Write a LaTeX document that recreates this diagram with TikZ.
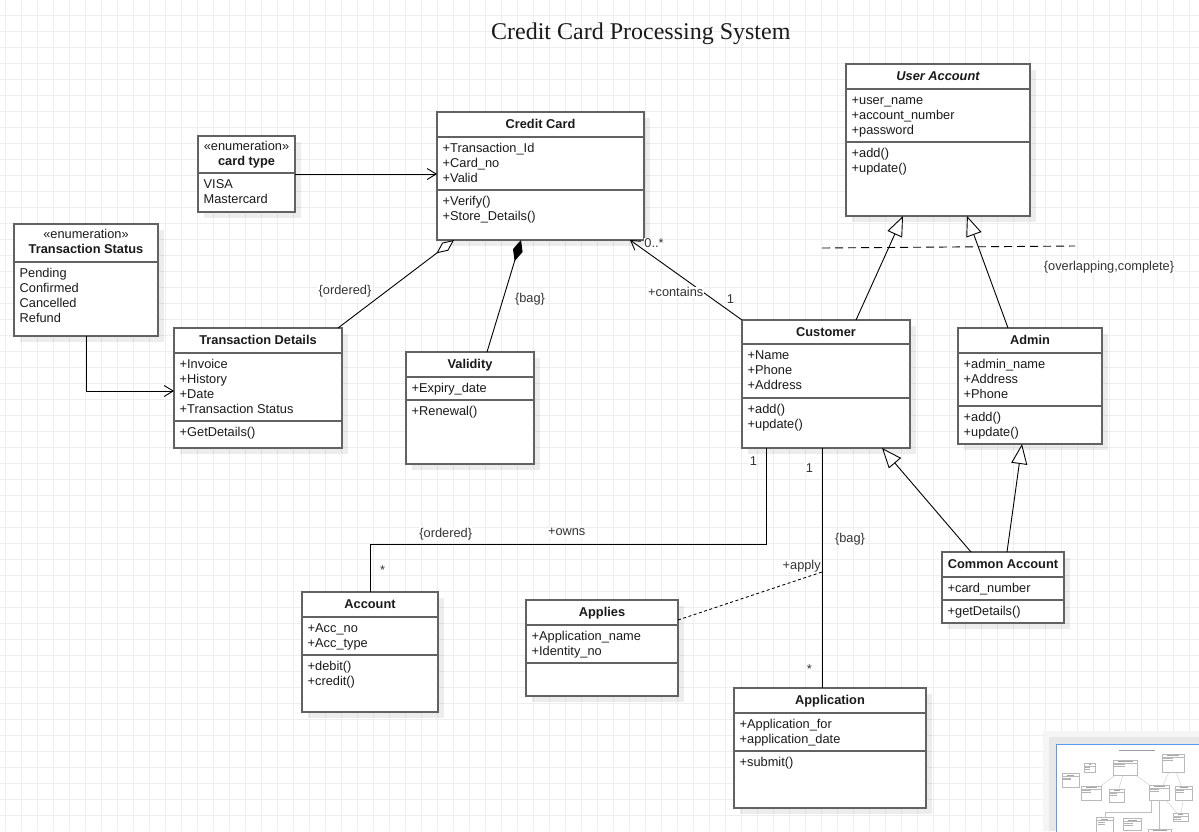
\documentclass[tikz,border=0pt]{standalone}
\usepackage{fontspec}
\setmainfont{Liberation Sans}
\newfontfamily\titlefont{Liberation Serif}
\usetikzlibrary{arrows.meta,calc}
\definecolor{boxc}{HTML}{626262}
\definecolor{gridc}{HTML}{EEEEEE}
\definecolor{txtc}{HTML}{1A1A1A}
\definecolor{lblc}{HTML}{333333}
\definecolor{minib}{HTML}{5B9BEF}
\newcommand\attrfont{\fontsize{12.8}{15}\selectfont}
\newcommand\hdrfont{\fontsize{12.8}{15}\selectfont\bfseries}
\tikzset{
  clsbox/.style={draw=boxc, line width=1.4pt, fill=white, inner sep=0pt, outer sep=0pt},
  divline/.style={draw=boxc, line width=1.4pt},
  boxshadow/.style={fill=black, fill opacity=0.07},
  txt/.style={font=\attrfont, inner sep=0pt, text=txtc},
  hdr/.style={font=\hdrfont, inner sep=0pt, text=txtc},
  stereo/.style={font=\attrfont, inner sep=0pt, text=txtc},
  lbl/.style={font=\attrfont, fill=white, inner sep=0.5pt, text=lblc},
  conn/.style={draw=black, line width=0.9pt},
  gridl/.style={draw=gridc, line width=1.1pt},
  openarr/.style={-{Straight Barb[length=9pt,width=11pt]}},
  genarr/.style={-{Triangle[fill=white,length=20pt,width=16pt]}},
  aggarr/.style={-{Diamond[fill=white,length=22pt,width=10pt]}},
  comparr/.style={-{Diamond[fill=black,length=22pt,width=10pt]}},
  minibox/.style={draw=gray!55, line width=0.5pt, fill=white},
}
\newcommand\umlcls[7]{%
  \fill[boxshadow] ({#2+6},{#3+6}) rectangle ({#4+6},{#5+6});
  \node[clsbox, anchor=north west, minimum width={(#4-#2)*1pt}, minimum height={(#5-#3)*1pt}] (#1) at (#2,#3) {};
  \draw[divline] (#2,#6) -- (#4,#6);
  \ifnum#7>0 \draw[divline] (#2,#7) -- (#4,#7);\fi
}
\newcommand\umlrows[4]{%
  \foreach \rowtext [count=\i] in {#4} {
    \node[txt, anchor=base west] (#1\i) at (#2, {#3+15*(\i-1)}) {\rowtext};
  }%
}
\begin{document}
\begin{tikzpicture}[x=1pt,y=-1pt]
\useasboundingbox (0,0) rectangle (1199,831);
\fill[white] (0,0) rectangle (1199,831);
% grid
\foreach \gx in {5.7,21.7,...,1199} \draw[gridl] (\gx,0) -- (\gx,831);
\foreach \gy in {15.7,31.7,...,831} \draw[gridl] (0,\gy) -- (1199,\gy);

% title
\node[font=\titlefont\fontsize{24}{28}\selectfont, anchor=base, inner sep=0pt, text=txtc] (title) at (640.8,39.3) {Credit Card Processing System};

% classes
\umlcls{ct}{198}{136}{295}{212}{173}{0}
\node[stereo, anchor=base] (ctS) at (246.5,150) {«enumeration»};
\node[hdr, anchor=base] (ctH) at (246.5,165.5) {card type};
\umlrows{ctr}{203.5}{188.5}{VISA,Mastercard}

\umlcls{ts}{14}{224}{158}{336}{262}{0}
\node[stereo, anchor=base] (tsS) at (86,238) {«enumeration»};
\node[hdr, anchor=base] (tsH) at (86,253.5) {Transaction Status};
\umlrows{tsr}{19.5}{277}{Pending,Confirmed,Cancelled,Refund}

\umlcls{td}{174}{328}{342}{448}{353}{421}
\node[hdr, anchor=base] (tdH) at (258,344.5) {Transaction Details};
\umlrows{tda}{179.5}{368}{+Invoice,+History,+Date,+Transaction Status}
\umlrows{tdm}{179.5}{436}{+GetDetails()}

\umlcls{cc}{437}{112}{644}{240}{137}{190}
\node[hdr, anchor=base] (ccH) at (540.5,128.5) {Credit Card};
\umlrows{cca}{442.5}{152}{+Transaction\_Id,+Card\_no,+Valid}
\umlrows{ccm}{442.5}{205}{+Verify(),+Store\_Details()}

\umlcls{val}{406}{352}{534}{464}{377}{400}
\node[hdr, anchor=base] (valH) at (470,368.5) {Validity};
\umlrows{vala}{411.5}{392}{+Expiry\_date}
\umlrows{valm}{411.5}{415}{+Renewal()}

\umlcls{ua}{846}{64}{1030}{216}{89}{142}
\node[hdr, anchor=base, font=\hdrfont\itshape] (uaH) at (938,80.5) {User Account};
\umlrows{uaa}{851.5}{104}{+user\_name,+account\_number,+password}
\umlrows{uam}{851.5}{157}{+add(),+update()}

\umlcls{cu}{742}{320}{910}{448}{344}{398}
\node[hdr, anchor=base] (cuH) at (826,336.5) {Customer};
\umlrows{cua}{747.5}{359}{+Name,+Phone,+Address}
\umlrows{cum}{747.5}{413}{+add(),+update()}

\umlcls{ad}{958}{328}{1102}{444}{353}{406}
\node[hdr, anchor=base] (adH) at (1030,344.5) {Admin};
\umlrows{ada}{963.5}{368}{+admin\_name,+Address,+Phone}
\umlrows{adm}{963.5}{421}{+add(),+update()}

\umlcls{acc}{302}{592}{438}{712}{617}{655}
\node[hdr, anchor=base] (accH) at (370,608.5) {Account};
\umlrows{acca}{307.5}{632}{+Acc\_no,+Acc\_type}
\umlrows{accm}{307.5}{670}{+debit(),+credit()}

\umlcls{ap}{526}{600}{678}{696}{625}{663}
\node[hdr, anchor=base] (apH) at (602,616.5) {Applies};
\umlrows{apa}{531.5}{640}{+Application\_name,+Identity\_no}

\umlcls{ca}{942}{552}{1064}{623}{577}{600}
\node[hdr, anchor=base] (caH) at (1003,568.5) {Common Account};
\umlrows{caa}{947.5}{592}{+card\_number}
\umlrows{cam}{947.5}{615}{+getDetails()}

\umlcls{apl}{734}{688}{926}{808}{713}{751}
\node[hdr, anchor=base] (aplH) at (830,704.5) {Application};
\umlrows{apla}{739.5}{728}{+Application\_for,+application\_date}
\umlrows{aplm}{739.5}{766}{+submit()}

% connectors
\draw[conn, openarr] (ct.east) -- (ct.east -| cc.west);
\draw[conn, openarr] (ts.south) |- ($(td.west)+(0,3)$);
\draw[conn, aggarr] ($(td.north east)+(-4,0)$) -- ($(cc.south west)+(17,0)$);
\draw[conn, comparr] ($(val.north)+(17,0)$) -- ($(cc.south west)+(84,0)$);
\draw[conn, openarr] (cu.north west) -- ($(cc.south east)+(-14,0)$);
\draw[conn, genarr] ($(cu.north west)+(114,0)$) -- ($(ua.south west)+(57,0)$);
\draw[conn, genarr] ($(ad.north west)+(50,0)$) -- ($(ua.south west)+(121,0)$);
\draw[conn, genarr] ($(ca.north west)+(29,0)$) -- ($(cu.south east)+(-28,0)$);
\draw[conn, genarr] ($(ca.north west)+(65,0)$) -- ($(ad.south west)+(64,0)$);
\draw[conn] ($(cu.south west)+(24,0)$) -- ++(0,96) -| (acc.north);
\coordinate (cuB) at ($(cu.south west)+(80,0)$);
\coordinate (applyPt) at ($(cuB)+(0,124)$);
\draw[conn] (cuB) -- (cuB |- apl.north);
\draw[conn, dash pattern=on 3pt off 2.5pt] ($(ap.north east)+(0,20)$) -- (applyPt);
\coordinate (gsA) at (822,248);
\coordinate (gsB) at (1075,246);
\draw[conn, dash pattern=on 8pt off 5pt] (gsA) -- (gsB);

% labels
\node[lbl] (l1) at (345,290.7) {\{ordered\}};
\node[lbl] (l2) at (530,299) {\{bag\}};
\node[lbl] (l3) at (675.7,292.3) {+contains};
\node[lbl] (l4) at (730.3,298.7) {1};
\node[lbl] (l5) at (654,242.7) {0..*};
\node[lbl] (l6) at (1109,266.7) {\{overlapping,complete\}};
\node[lbl] (l7) at (753.3,461.5) {1};
\node[lbl] (l8) at (809.3,468.3) {1};
\node[lbl] (l9) at (850,538.7) {\{bag\}};
\node[lbl] (l10) at (801.7,566) {+apply};
\node[lbl] (l11) at (809.3,669.5) {*};
\node[lbl] (l12) at (445.7,533.7) {\{ordered\}};
\node[lbl] (l13) at (566.7,532.3) {+owns};
\node[lbl] (l14) at (382.7,570) {*};

% minimap
\fill[black!4] (1043,731) rectangle (1199,831);
\fill[black!9] (1049,737) rectangle (1199,831);
\fill[white] (1056,744) rectangle (1199,831);
\begin{scope}
\clip (1056,744) rectangle (1199,831);
\begin{scope}[shift={(1060.3,746.6)}, x=0.12pt, y=-0.12pt]
\fill[gray!75] (491,27) rectangle (790,36);
\foreach \ma/\mb/\mc/\md in {198/136/295/212, 14/224/158/336, 174/328/342/448, 437/112/644/240, 406/352/534/464, 846/64/1030/216, 742/320/910/448, 958/328/1102/444, 302/592/438/712, 526/600/678/696, 942/552/1064/623, 734/688/926/808} {
  \draw[minibox] (\ma,\mb) rectangle (\mc,\md);
  \draw[gray!55, line width=0.4pt] (\ma,\mb+25) -- (\mc,\mb+25);
  \fill[gray!70] (\ma+40,\mb+10) rectangle (\mc-40,\mb+16);
  \fill[gray!60] (\ma+8,\mb+35) rectangle ({(\ma+\mc)/2},\mb+40);
  \fill[gray!60] (\ma+8,\mb+50) rectangle ({(\ma+\mc)/2},\mb+55);
}
\draw[gray!50, line width=0.3pt] (756,448) -- (756,544) -- (370,544) -- (370,592);
\draw[gray!50, line width=0.3pt] (822,448) -- (822,688);
\draw[gray!50, line width=0.3pt] (742,320) -- (630,240);
\draw[gray!50, line width=0.3pt] (338,328) -- (454,240);
\draw[gray!50, line width=0.3pt] (487,352) -- (521,240);
\draw[gray!50, line width=0.3pt] (856,320) -- (903,216);
\draw[gray!50, line width=0.3pt] (1008,328) -- (967,216);
\draw[gray!50, line width=0.3pt] (971,552) -- (882,448);
\draw[gray!50, line width=0.3pt] (1007,552) -- (1022,444);
\end{scope}
\end{scope}
\draw[minib, line width=1pt] (1056,831.5) -- (1056,744) -- (1199.5,744);
\end{tikzpicture}
\end{document}
